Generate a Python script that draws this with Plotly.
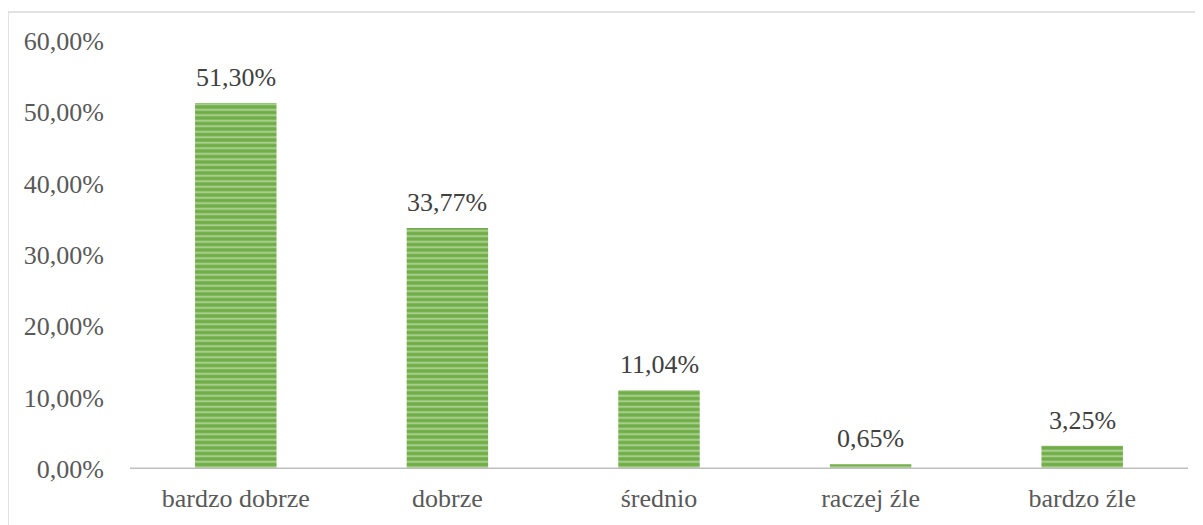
import plotly.graph_objects as go

# ratings and their shares (%)
categories = ["bardzo dobrze", "dobrze", "średnio", "raczej źle", "bardzo źle"]
shares = [51.30, 33.77, 11.04, 0.65, 3.25]
tick_vals = [0, 10, 20, 30, 40, 50, 60]
tick_text = ["0,00%", "10,00%", "20,00%", "30,00%", "40,00%", "50,00%", "60,00%"]

labels = [f"{v:.2f}%".replace(".", ",") for v in shares]

FONT = "Liberation Serif"

fig = go.Figure()
fig.add_trace(go.Bar(
    x=categories,
    y=shares,
    marker=dict(
        color="#70AD47",
        line=dict(width=0),
        pattern=dict(shape="-", fgcolor="#DDEDD2", bgcolor="#70AD47",
                     size=5.5, solidity=0.4, fillmode="overlay"),
    ),
    hoverinfo="skip",
))

# value labels above the bars
for c, v, t in zip(categories, shares, labels):
    fig.add_annotation(x=c, y=v, text=t, showarrow=False,
                       yanchor="bottom", yshift=9,
                       font=dict(family=FONT, size=26, color="#404040"))

# page body has an 8px margin, so the figure is sized/offset to compensate
fig.update_layout(
    width=1195, height=517,
    template=None,
    paper_bgcolor="white",
    plot_bgcolor="white",
    margin=dict(l=122, r=15, t=33, b=56),
    bargap=0.615,
    showlegend=False,
    font=dict(family=FONT, size=26, color="#595959"),
    xaxis=dict(
        showgrid=False, zeroline=False, showline=False,
        ticks="", ticklabelstandoff=11,
        tickfont=dict(family=FONT, size=26, color="#595959"),
    ),
    yaxis=dict(
        range=[0, 60], tickvals=tick_vals, ticktext=tick_text,
        showgrid=False, zeroline=False, showline=False,
        ticks="", ticklabelstandoff=25,
        tickfont=dict(family=FONT, size=26, color="#595959"),
    ),
    shapes=[
        # chart border
        dict(type="rect", xref="paper", yref="paper",
             x0=-0.1153, x1=1.05, y0=-0.2, y1=1.0678,
             line=dict(color="#D9D9D9", width=1.5), layer="below"),
        # category axis line
        dict(type="line", xref="paper", yref="y",
             x0=0, x1=1, y0=0, y1=0,
             line=dict(color="#BFBFBF", width=3), layer="above"),
    ],
)

fig.write_html("out.html")
